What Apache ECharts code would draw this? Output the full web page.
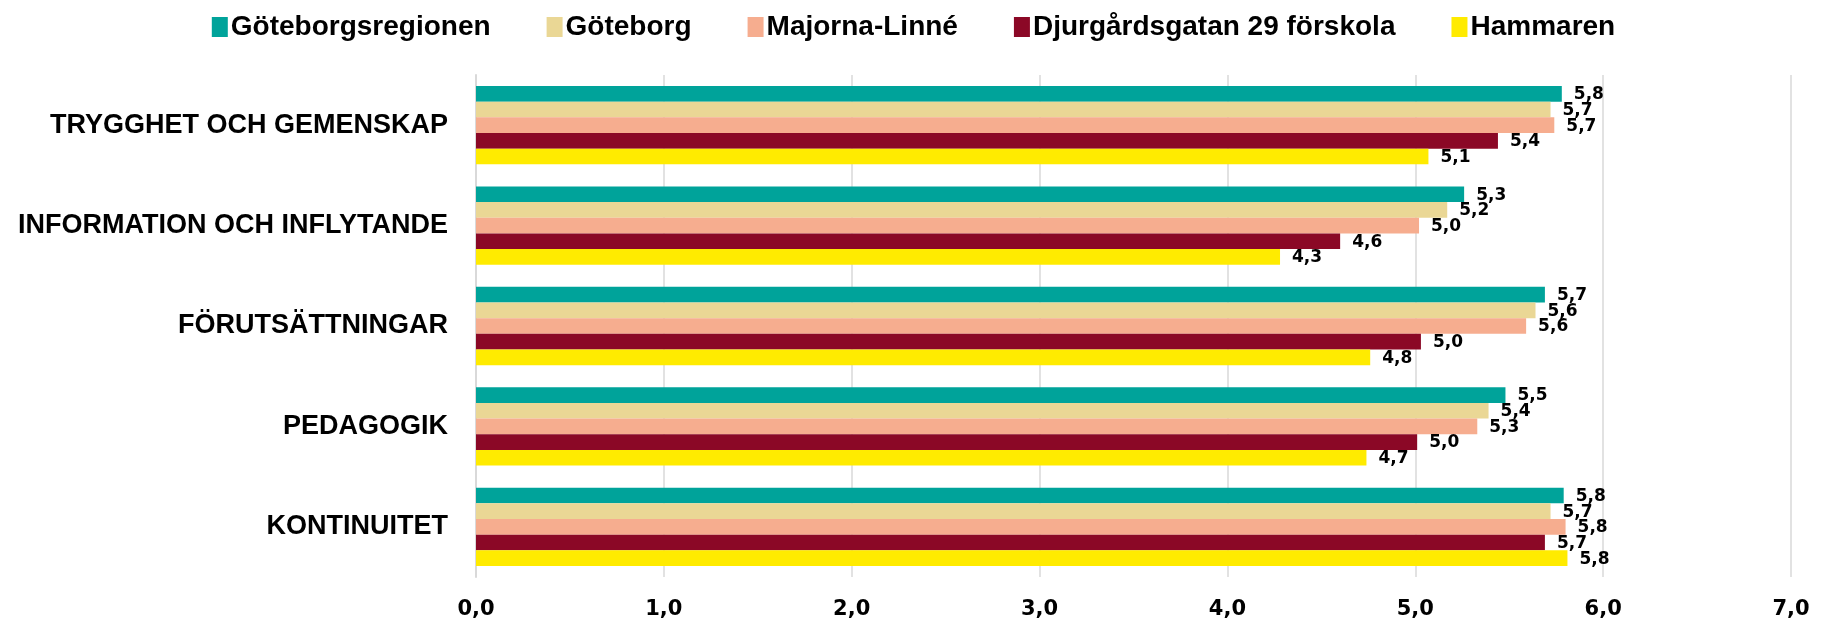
<!DOCTYPE html>
<html>
<head>
<meta charset="utf-8">
<script src="https://cdn.jsdelivr.net/npm/echarts@6/dist/echarts.min.js"></script>
<style>
    html, body { margin: 0; padding: 0; background: #fff; }
    #chart { width: 1827px; height: 620px; }
</style>
</head>
<body>
<div id="chart"></div>
<script>
const categories = [
    'TRYGGHET OCH GEMENSKAP',
    'INFORMATION OCH INFLYTANDE',
    'FÖRUTSÄTTNINGAR',
    'PEDAGOGIK',
    'KONTINUITET'
];
const seriesNames = ['Göteborgsregionen', 'Göteborg', 'Majorna-Linné', 'Djurgårdsgatan 29 förskola', 'Hammaren'];
const goteborgsregionen = [5.78, 5.26, 5.69, 5.48, 5.79];
const goteborg = [5.72, 5.17, 5.64, 5.39, 5.72];
const majornaLinne = [5.74, 5.02, 5.59, 5.33, 5.80];
const djurgardsgatan = [5.44, 4.60, 5.03, 5.01, 5.69];
const hammaren = [5.07, 4.28, 4.76, 4.74, 5.81];
const xTicks = [0, 1, 2, 3, 4, 5, 6, 7];

const colors = ['#00a39a', '#ead795', '#f6ad8f', '#8b0826', '#ffeb00'];
const values = [goteborgsregionen, goteborg, majornaLinne, djurgardsgatan, hammaren];

const fmt = v => v.toFixed(1).replace('.', ',');

const chart = echarts.init(document.getElementById('chart'));

chart.setOption({
    animation: false,
    color: colors,
    legend: {
        top: 8,
        left: 'center',
        itemWidth: 16,
        itemHeight: 20,
        itemGap: 56,
        icon: 'rect',
        textStyle: {
            fontFamily: 'Liberation Sans',
            fontWeight: 'bold',
            fontSize: 28,
            color: '#000',
            padding: [0, 0, 0, -2]
        },
        data: seriesNames
    },
    grid: {
        left: 476,
        right: 36,
        top: 75,
        bottom: 43
    },
    xAxis: {
        type: 'value',
        min: xTicks[0],
        max: xTicks[xTicks.length - 1],
        interval: 1,
        axisLine: { show: false },
        axisTick: { show: false },
        splitLine: {
            lineStyle: { color: '#e2e2e2', width: 2 }
        },
        axisLabel: {
            margin: 22,
            formatter: fmt,
            fontFamily: 'DejaVu Sans',
            fontWeight: 'bold',
            fontSize: 21,
            color: '#000'
        }
    },
    yAxis: {
        type: 'category',
        inverse: true,
        data: categories,
        axisLine: {
            lineStyle: { color: '#d9d9d9', width: 2 }
        },
        axisTick: {
            length: 8,
            lineStyle: { color: '#d9d9d9', width: 2 }
        },
        axisLabel: {
            margin: 28,
            fontFamily: 'Liberation Sans',
            fontWeight: 'bold',
            fontSize: 27,
            color: '#000'
        }
    },
    series: seriesNames.map((name, i) => ({
        name: name,
        type: 'bar',
        data: values[i],
        barGap: '0%',
        barCategoryGap: '22%',
        label: {
            show: true,
            position: 'right',
            distance: 12,
            offset: [0, 1],
            formatter: p => fmt(p.value),
            fontFamily: 'DejaVu Sans',
            fontWeight: 'bold',
            fontSize: 17,
            color: '#000'
        }
    }))
});
</script>
</body>
</html>
